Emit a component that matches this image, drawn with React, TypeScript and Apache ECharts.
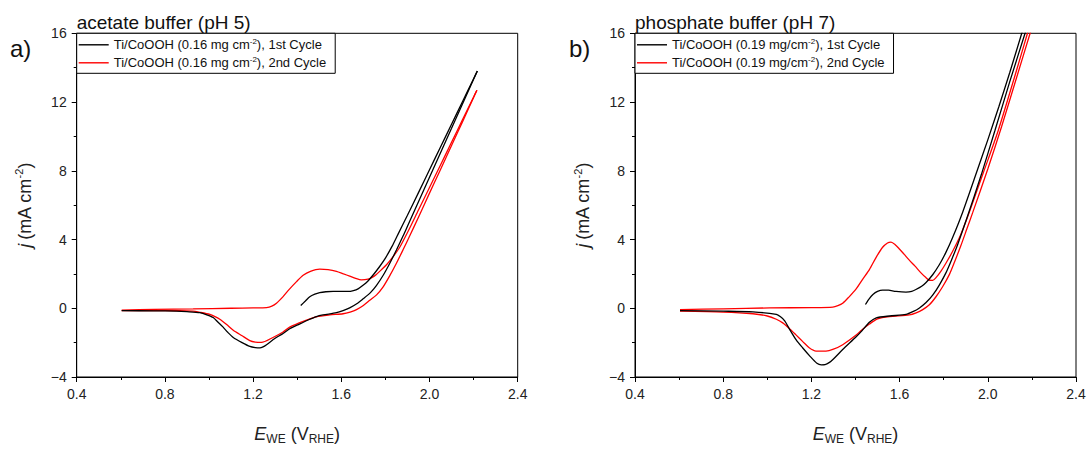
import React, { useEffect, useRef } from "react";
import * as echarts from "echarts";

// ---------- data: [E (V vs RHE), j (mA cm^-2)] ----------
const aCycle1: [number, number][] = [
  [1.416, 0.16], [1.437, 0.42], [1.457, 0.67], [1.48, 0.82], [1.502, 0.91], [1.53, 0.96],
  [1.563, 0.98], [1.6, 0.98], [1.631, 0.98], [1.655, 1.03], [1.676, 1.13], [1.7, 1.35],
  [1.721, 1.59], [1.747, 1.98], [1.774, 2.43], [1.8, 2.92], [1.83, 3.6], [1.857, 4.3],
  [1.9, 5.41], [1.95, 6.73], [2.0, 8.06], [2.05, 9.38], [2.1, 10.71], [2.15, 12.03],
  [2.2, 13.36], [2.217, 13.81],
  [2.2, 13.32], [2.15, 11.9], [2.1, 10.47], [2.05, 9.05], [2.0, 7.62], [1.95, 6.2],
  [1.9, 4.77], [1.88, 4.2], [1.85, 3.39], [1.82, 2.62], [1.79, 1.92], [1.759, 1.32],
  [1.73, 0.88], [1.699, 0.55], [1.67, 0.26], [1.638, 0.02], [1.608, -0.14], [1.578, -0.26],
  [1.517, -0.39], [1.487, -0.48], [1.457, -0.64], [1.41, -0.92], [1.366, -1.19], [1.336, -1.47],
  [1.3, -1.75], [1.261, -2.12], [1.245, -2.25], [1.231, -2.31], [1.21, -2.29], [1.185, -2.22],
  [1.15, -2.0], [1.11, -1.7], [1.085, -1.4], [1.064, -1.1], [1.04, -0.8], [1.019, -0.54],
  [0.99, -0.38], [0.959, -0.26], [0.9, -0.2], [0.853, -0.17], [0.75, -0.15], [0.604, -0.14],
];

const aCycle2: [number, number][] = [
  [0.604, -0.11], [0.75, -0.07], [0.928, -0.04], [1.1, 0.0], [1.2, 0.02], [1.261, 0.04],
  [1.285, 0.12], [1.306, 0.29], [1.336, 0.68], [1.366, 1.13], [1.397, 1.55], [1.427, 1.92],
  [1.46, 2.15], [1.502, 2.28], [1.54, 2.25], [1.578, 2.15], [1.61, 2.0], [1.638, 1.87],
  [1.665, 1.74], [1.691, 1.65], [1.721, 1.69], [1.74, 1.8], [1.759, 1.97], [1.78, 2.22],
  [1.805, 2.53], [1.835, 3.0], [1.865, 3.55], [1.903, 4.48], [1.95, 5.72], [2.0, 7.03],
  [2.05, 8.34], [2.1, 9.66], [2.15, 10.98], [2.2, 12.29], [2.215, 12.69],
  [2.2, 12.27], [2.15, 10.86], [2.1, 9.47], [2.05, 8.08], [2.0, 6.7], [1.95, 5.3],
  [1.91, 4.2], [1.88, 3.4], [1.85, 2.62], [1.82, 1.9], [1.789, 1.23], [1.76, 0.78],
  [1.729, 0.46], [1.7, 0.16], [1.669, -0.08], [1.64, -0.22], [1.608, -0.32], [1.548, -0.39],
  [1.487, -0.5], [1.43, -0.75], [1.366, -1.1], [1.336, -1.38], [1.29, -1.7], [1.238, -1.99],
  [1.21, -1.97], [1.185, -1.88], [1.15, -1.6], [1.11, -1.28], [1.08, -0.95], [1.049, -0.64],
  [1.025, -0.47], [1.004, -0.36], [0.96, -0.24], [0.928, -0.17], [0.8, -0.13], [0.604, -0.14],
];

const bCycle1: [number, number][] = [
  [1.445, 0.22], [1.462, 0.55], [1.479, 0.8], [1.5, 0.98], [1.523, 1.06], [1.55, 1.05],
  [1.584, 0.98], [1.629, 0.94], [1.655, 0.98], [1.674, 1.09], [1.7, 1.28], [1.72, 1.5],
  [1.75, 1.95], [1.78, 2.53], [1.81, 3.25], [1.84, 4.1], [1.886, 5.59], [1.95, 7.94],
  [2.0, 9.8], [2.05, 11.73], [2.1, 13.73], [2.154, 16.0], [2.2, 17.9],
  [2.2, 17.2], [2.169, 16.0], [2.1, 13.2], [2.032, 10.33], [1.97, 7.75], [1.908, 5.35],
  [1.863, 3.7], [1.835, 2.8], [1.81, 2.06], [1.78, 1.35], [1.75, 0.76], [1.72, 0.33],
  [1.69, 0.02], [1.66, -0.2], [1.629, -0.36], [1.554, -0.45], [1.494, -0.56], [1.463, -0.82],
  [1.43, -1.3], [1.403, -1.66], [1.342, -2.4], [1.3, -2.95], [1.282, -3.15], [1.262, -3.28],
  [1.245, -3.29], [1.225, -3.2], [1.192, -2.77], [1.16, -2.3], [1.131, -1.84], [1.1, -1.2],
  [1.079, -0.73], [1.06, -0.5], [1.041, -0.36], [0.935, -0.21], [0.8, -0.17], [0.604, -0.14],
];

const bCycle2: [number, number][] = [
  [0.604, -0.08], [0.8, -0.03], [1.011, 0.02], [1.2, 0.04], [1.297, 0.07], [1.32, 0.15],
  [1.342, 0.29], [1.37, 0.65], [1.403, 1.13], [1.433, 1.7], [1.463, 2.25], [1.493, 2.95],
  [1.523, 3.55], [1.545, 3.8], [1.561, 3.85], [1.58, 3.7], [1.599, 3.45], [1.62, 3.15],
  [1.644, 2.8], [1.67, 2.45], [1.697, 2.06], [1.718, 1.8], [1.735, 1.63], [1.75, 1.62],
  [1.765, 1.78], [1.787, 2.15], [1.81, 2.62], [1.84, 3.3], [1.871, 4.1], [1.89, 4.7],
  [1.916, 5.59], [1.98, 7.9], [2.047, 10.33], [2.12, 13.4], [2.18, 16.0], [2.2, 16.86],
  [2.2, 16.3], [2.192, 16.0], [2.13, 13.4], [2.062, 10.55], [2.0, 8.1], [1.931, 5.55],
  [1.904, 4.58], [1.878, 3.65], [1.85, 2.72], [1.826, 1.97], [1.795, 1.25], [1.765, 0.67],
  [1.735, 0.2], [1.705, -0.08], [1.675, -0.27], [1.644, -0.39], [1.554, -0.49], [1.5, -0.62],
  [1.463, -0.92], [1.43, -1.25], [1.403, -1.56], [1.342, -2.12], [1.3, -2.38], [1.266, -2.49],
  [1.221, -2.49], [1.19, -2.3], [1.161, -1.94], [1.13, -1.55], [1.101, -1.19], [1.07, -0.85],
  [1.041, -0.64], [1.0, -0.45], [0.935, -0.32], [0.8, -0.22], [0.604, -0.17],
];

const panelTitles = ["acetate buffer (pH 5)", "phosphate buffer (pH 7)"];
const panelTags = ["a)", "b)"];
const seriesNames = [
  ["Ti/CoOOH (0.16 mg cm-2), 1st Cycle", "Ti/CoOOH (0.16 mg cm-2), 2nd Cycle"],
  ["Ti/CoOOH (0.19 mg/cm-2), 1st Cycle", "Ti/CoOOH (0.19 mg/cm-2), 2nd Cycle"],
];
const legendRich: Record<string, string> = {
  [seriesNames[0][0]]: "{n|Ti/CoOOH (0.16 mg cm}{s|-2}{n|), 1st Cycle}",
  [seriesNames[0][1]]: "{n|Ti/CoOOH (0.16 mg cm}{s|-2}{n|), 2nd Cycle}",
  [seriesNames[1][0]]: "{n|Ti/CoOOH (0.19 mg/cm}{s|-2}{n|), 1st Cycle}",
  [seriesNames[1][1]]: "{n|Ti/CoOOH (0.19 mg/cm}{s|-2}{n|), 2nd Cycle}",
};
const xMin = 0.4, xMax = 2.4, xStep = 0.4;
const yMin = -4, yMax = 16, yStep = 4;
const cycleColors = ["#000000", "#ff0000"];

const FONT = "'Liberation Sans', Arial, Helvetica, sans-serif";
const GRID_LEFT = [76.7, 635];
const GRID_W = 441;
const GRID_TOP = 33.3;
const GRID_H = 358.7;

// split a CV loop at its vertex (max potential) into anodic / cathodic sweeps
function splitAtVertex(d: [number, number][]): [number, number][][] {
  let k = 0;
  for (let i = 1; i < d.length; i++) if (d[i][0] > d[k][0]) k = i;
  return [d.slice(0, k + 1), d.slice(k)];
}

export default function App() {
  const ref = useRef<HTMLDivElement>(null);
  useEffect(() => {
    const chart = echarts.init(ref.current!, null, { renderer: "svg" });
    const data = [[aCycle1, aCycle2], [bCycle1, bCycle2]];

    const xAxes = [0, 1].map((g) => ({
      type: "value",
      gridIndex: g,
      min: xMin,
      max: xMax,
      interval: xStep,
      position: "bottom",
      axisLine: { onZero: false, lineStyle: { color: "#000", width: 1 } },
      axisTick: { show: true, inside: false, length: 5, lineStyle: { color: "#000" } },
      minorTick: { show: true, splitNumber: 2, length: 3, lineStyle: { color: "#000" } },
      splitLine: { show: false },
      axisLabel: {
        fontFamily: FONT, fontSize: 14, color: "#222", margin: 10,
        formatter: (v: number) => v.toFixed(1),
      },
      name: "{i|E}{sub|WE}{n| (V}{sub|RHE}{n|)}",
      nameLocation: "middle",
      nameGap: 46,
      nameTextStyle: {
        fontFamily: FONT, color: "#222",
        rich: {
          i: { fontFamily: FONT, fontSize: 18, fontStyle: "italic", color: "#222", lineHeight: 22 },
          n: { fontFamily: FONT, fontSize: 18, color: "#222", lineHeight: 22 },
          sub: { fontFamily: FONT, fontSize: 12, color: "#222", verticalAlign: "bottom", lineHeight: 22 },
        },
      },
    }));

    const yAxes = [0, 1].map((g) => ({
      type: "value",
      gridIndex: g,
      min: yMin,
      max: yMax,
      interval: yStep,
      position: "left",
      axisLine: { onZero: false, lineStyle: { color: "#000", width: 1 } },
      axisTick: { show: true, inside: false, length: 5, lineStyle: { color: "#000" } },
      minorTick: { show: true, splitNumber: 2, length: 3, lineStyle: { color: "#000" } },
      splitLine: { show: false },
      axisLabel: {
        fontFamily: FONT, fontSize: 14, color: "#222", margin: 10,
        formatter: (v: number) => (v < 0 ? "\u2212" + Math.abs(v) : String(v)),
      },
      name: "{i|j} {n|(mA cm}{s|-2}{n|)}",
      nameLocation: "middle",
      nameRotate: 90,
      nameGap: 41,
      nameTextStyle: {
        fontFamily: FONT, color: "#222",
        rich: {
          i: { fontFamily: FONT, fontSize: 18, fontStyle: "italic", color: "#222", lineHeight: 22 },
          n: { fontFamily: FONT, fontSize: 18, color: "#222", lineHeight: 22 },
          s: { fontFamily: FONT, fontSize: 11, color: "#222", verticalAlign: "top", lineHeight: 22 },
        },
      },
    }));

    const series: any[] = [];
    [0, 1].forEach((g) => {
      [0, 1].forEach((c) => {
        splitAtVertex(data[g][c]).forEach((part) => {
          series.push({
            type: "line",
            name: seriesNames[g][c],
            xAxisIndex: g,
            yAxisIndex: g,
            data: part,
            symbol: "none",
            showSymbol: false,
            smooth: 0.25,
            clip: true,
            color: cycleColors[c],
            lineStyle: { color: cycleColors[c], width: 1.3 },
            z: c === 0 ? 3 : 2,
          });
        });
      });
    });

    const legends = [0, 1].map((g) => ({
      left: GRID_LEFT[g],
      top: GRID_TOP,
      orient: "vertical",
      data: seriesNames[g].map((n) => ({ name: n, icon: "rect" })),
      backgroundColor: "#fff",
      borderColor: "#000",
      borderWidth: 1,
      padding: [4, 9, 3, 2],
      itemWidth: 30,
      itemHeight: 1.4,
      itemGap: 3,
      selectedMode: false,
      formatter: (name: string) => legendRich[name],
      textStyle: {
        fontFamily: FONT, fontSize: 13, color: "#111", lineHeight: 15,
        rich: {
          n: { fontFamily: FONT, fontSize: 13, color: "#111", lineHeight: 15 },
          s: { fontFamily: FONT, fontSize: 8, color: "#111", verticalAlign: "top", lineHeight: 15 },
        },
      },
    }));

    const graphics: any[] = [];
    [0, 1].forEach((g) => {
      graphics.push({
        type: "text",
        x: GRID_LEFT[g],
        y: 22,
        style: {
          text: panelTitles[g], font: `19px ${FONT}`, fill: "#111",
          align: "left", verticalAlign: "middle",
        },
      });
      graphics.push({
        type: "text",
        x: g === 0 ? 10 : 569,
        y: 48,
        style: {
          text: panelTags[g], font: `24px ${FONT}`, fill: "#111",
          align: "left", verticalAlign: "middle",
        },
      });
    });

    chart.setOption({
      animation: false,
      backgroundColor: "#fff",
      grid: [0, 1].map((g) => ({
        left: GRID_LEFT[g],
        top: GRID_TOP,
        width: GRID_W,
        height: GRID_H,
        show: true,
        borderColor: "#000",
        borderWidth: 1,
        backgroundColor: "transparent",
      })),
      xAxis: xAxes,
      yAxis: yAxes,
      legend: legends,
      series,
      graphic: graphics,
    } as any);
    return () => chart.dispose();
  }, []);
  return (
    <div
      ref={ref}
      style={{ position: "absolute", left: 0, top: 0, width: 1091, height: 450 }}
    />
  );
}
